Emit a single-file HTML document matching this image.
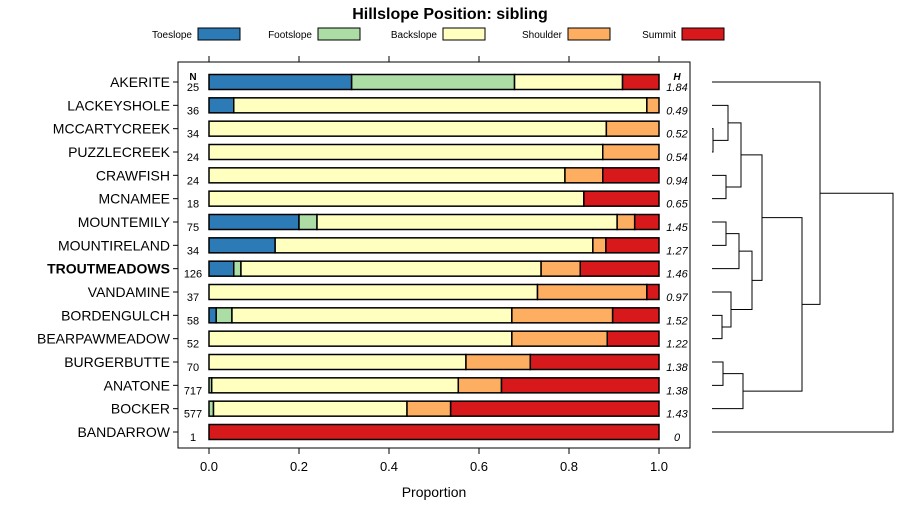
<!DOCTYPE html>
<html><head><meta charset="utf-8"><style>
body{margin:0;background:#fff;}
svg{display:block;font-family:"Liberation Sans",sans-serif;}
</style></head><body>
<svg id="c" width="900" height="520" xmlns="http://www.w3.org/2000/svg"></svg>
<script>
const names=["AKERITE","LACKEYSHOLE","MCCARTYCREEK","PUZZLECREEK","CRAWFISH","MCNAMEE","MOUNTEMILY","MOUNTIRELAND","TROUTMEADOWS","VANDAMINE","BORDENGULCH","BEARPAWMEADOW","BURGERBUTTE","ANATONE","BOCKER","BANDARROW"];
const nVals=[25,36,34,24,24,18,75,34,126,37,58,52,70,717,577,1];
const hVals=["1.84","0.49","0.52","0.54","0.94","0.65","1.45","1.27","1.46","0.97","1.52","1.22","1.38","1.38","1.43","0"];
const toeslope=[0.317,0.055,0,0,0,0,0.2,0.147,0.055,0,0.016,0,0,0,0,0];
const footslope=[0.362,0,0,0,0,0,0.04,0,0.016,0,0.035,0,0,0.006,0.01,0];
const backslope=[0.24,0.918,0.883,0.875,0.791,0.833,0.667,0.706,0.667,0.73,0.622,0.673,0.571,0.548,0.43,0];
const shoulder=[0,0.027,0.117,0.125,0.084,0,0.039,0.029,0.087,0.243,0.224,0.212,0.143,0.096,0.097,0];
const summit=[0.081,0,0,0,0.125,0.167,0.054,0.118,0.175,0.027,0.103,0.115,0.286,0.35,0.463,1];
const classes=["Toeslope","Footslope","Backslope","Shoulder","Summit"];
const colors=["#2c7bb6","#abdda4","#ffffbf","#fdae61","#d7191c"];
const ticks=[0,0.2,0.4,0.6,0.8,1.0];
// dendrogram merges: [childA, childB, height]; leaves are row indices, merged nodes are "m"+index
const merges=[[2,3,1],[1,"m0",16],[4,5,14],["m1","m2",29],[6,7,14],["m4",8,27],[10,11,10],[9,"m6",19],["m5","m7",40],["m3","m8",50],[12,13,11],["m10",14,31],["m9","m11",90],[0,"m12",108],["m13",15,181]];

const svg=document.getElementById('c');const NS="http://www.w3.org/2000/svg";
function el(t,a,p){const e=document.createElementNS(NS,t);for(const k in a)e.setAttribute(k,a[k]);(p||svg).appendChild(e);return e;}
const X0=209,X1=659;const xs=v=>X0+v*(X1-X0);
const ys=i=>82+i*(432-82)/15;
// title
let t=el('text',{x:450,y:19,'text-anchor':'middle','font-size':16,'font-weight':'bold'});t.textContent="Hillslope Position: sibling";

// legend
const lx=[198,318,443,568,682];
classes.forEach((c,i)=>{
 const g=el('g',{});
 
 
 const tt=el('text',{x:lx[i]-6,y:38,'text-anchor':'end','font-size':10},g);tt.textContent=c;
 el('rect',{x:lx[i],y:28,width:42,height:12,fill:colors[i],stroke:'#000','stroke-width':1},g);
});
// panel
const panel=el('rect',{x:178,y:62,width:512,height:386,fill:'none',stroke:'#000','stroke-width':1});

ticks.forEach(v=>{
 el('line',{x1:xs(v),x2:xs(v),y1:56,y2:62,stroke:'#000'});
 el('line',{x1:xs(v),x2:xs(v),y1:448,y2:454,stroke:'#000'});
 const tl=el('text',{x:xs(v),y:471,'text-anchor':'middle','font-size':13});tl.textContent=v.toFixed(1);
 
});
const xt=el('text',{x:434,y:497,'text-anchor':'middle','font-size':14});xt.textContent="Proportion";

let nh=el('text',{x:193,y:80,'text-anchor':'middle','font-size':10,'font-weight':'bold'});nh.textContent="N";

let hh=el('text',{x:677,y:80,'text-anchor':'middle','font-size':10,'font-weight':'bold','font-style':'italic'});hh.textContent="H";

const series=[toeslope,footslope,backslope,shoulder,summit];
names.forEach((n,i)=>{
 const y=ys(i);
 el('line',{x1:173,x2:178,y1:y,y2:y,stroke:'#000'});
 const lb=el('text',{x:170,y:y+5,'text-anchor':'end','font-size':14,'font-weight':n==="TROUTMEADOWS"?'bold':'normal'});lb.textContent=n;
 
 const nt=el('text',{x:193,y:y+9,'text-anchor':'middle','font-size':11});nt.textContent=nVals[i];
 
 const ht=el('text',{x:677,y:y+9,'text-anchor':'middle','font-size':11,'font-style':'italic'});ht.textContent=hVals[i];
 
 let cum=0;
 series.forEach((s,k)=>{
  if(s[i]<=0)return;
  const r=el('rect',{x:xs(cum),y:y-7.5,width:xs(cum+s[i])-xs(cum),height:15,fill:colors[k],stroke:'#000','stroke-width':1.5});
  
  
  cum+=s[i];
 });
});
// dendrogram
const DX=712;const nodes={};
function pos(c){return typeof c==="number"?{x:DX,y:ys(c)}:nodes[c];}
merges.forEach((m,i)=>{
 const a=pos(m[0]),b=pos(m[1]),hx=DX+m[2];
 const p=el('path',{d:`M${a.x},${a.y}H${hx}V${b.y}H${b.x}`,fill:'none',stroke:'#000','stroke-width':1});
 
 
 nodes["m"+i]={x:hx,y:(a.y+b.y)/2};
});
</script>
</body></html>
